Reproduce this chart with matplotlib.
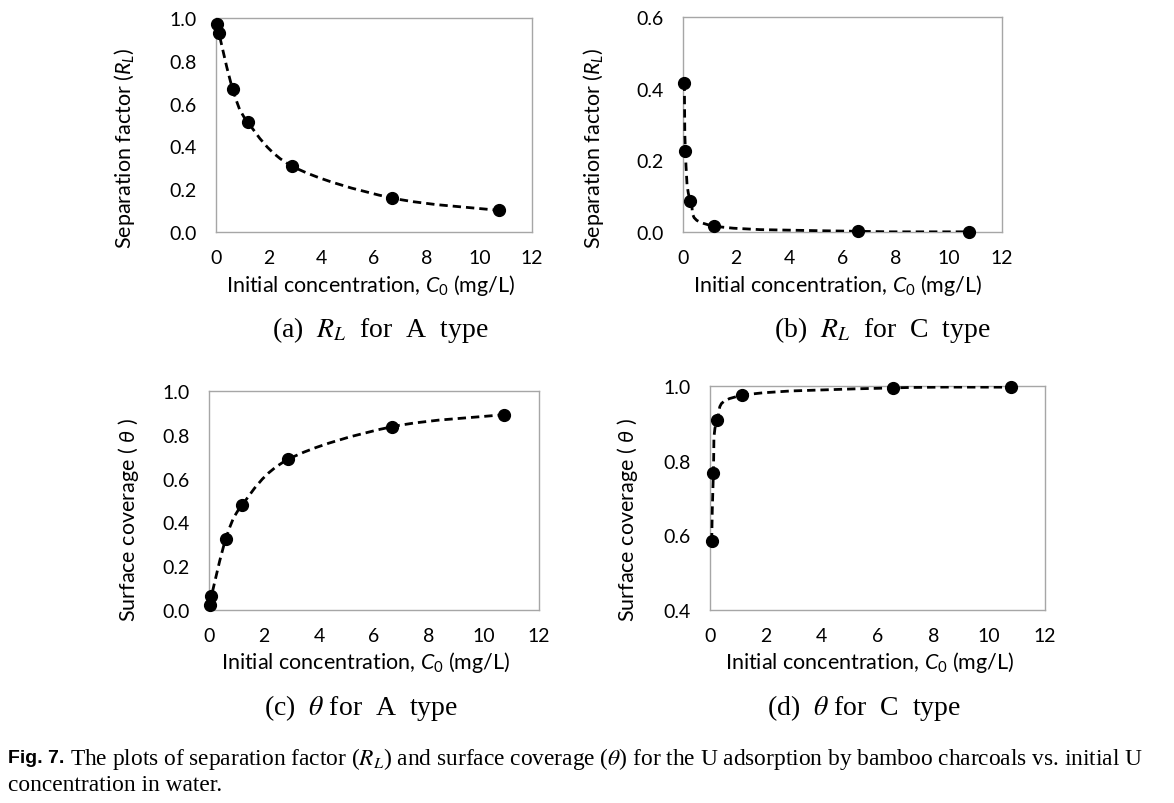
import matplotlib
matplotlib.use('Agg')
import matplotlib.pyplot as plt
from matplotlib.path import Path
from matplotlib.patches import PathPatch

# Data
c0_a = [0.05, 0.11, 0.63, 1.20, 2.90, 6.68, 10.76]
rl_a = [0.973, 0.930, 0.670, 0.514, 0.307, 0.159, 0.101]

c0_b = [0.05, 0.09, 0.28, 1.15, 6.57, 10.75]
rl_b = [0.417, 0.226, 0.087, 0.017, 0.002, 0.0005]

c0_c = [0.03, 0.09, 0.61, 1.20, 2.88, 6.66, 10.74]
theta_c = [0.024, 0.064, 0.323, 0.479, 0.688, 0.837, 0.892]

c0_d = [0.06, 0.12, 0.25, 1.16, 6.55, 10.80]
theta_d = [0.584, 0.767, 0.908, 0.975, 0.995, 0.997]

plt.rcParams['font.family'] = ['Lato', 'DejaVu Sans']
plt.rcParams['mathtext.fontset'] = 'custom'
plt.rcParams['mathtext.rm'] = 'Lato'
plt.rcParams['mathtext.it'] = 'Lato:italic'
plt.rcParams['mathtext.bf'] = 'Lato:bold'

FRAME = '#a6a6a6'


def smooth_path(xs, ys):
    """Excel-style smoothed line as a Bezier path through the points."""
    pts = list(zip(xs, ys))
    verts = [pts[0]]
    codes = [Path.MOVETO]
    n = len(pts)
    for i in range(n - 1):
        p0 = pts[i - 1] if i > 0 else pts[i]
        p1 = pts[i]
        p2 = pts[i + 1]
        p3 = pts[i + 2] if i + 2 < n else pts[i + 1]
        c1 = (p1[0] + (p2[0] - p0[0]) / 6, p1[1] + (p2[1] - p0[1]) / 6)
        c2 = (p2[0] - (p3[0] - p1[0]) / 6, p2[1] - (p3[1] - p1[1]) / 6)
        verts += [c1, c2, p2]
        codes += [Path.CURVE4] * 3
    return Path(verts, codes)


def draw_panel(ax, xs, ys, ylim, yticks, ylabel, ylab_xy, xlab_xy):
    ax.set_xlim(0, 12)
    ax.set_ylim(*ylim)
    ax.set_xticks(range(0, 13, 2))
    ax.set_yticks(yticks)
    ax.set_yticklabels([f'{v:.1f}' for v in yticks])
    ax.tick_params(length=0, labelsize=14, pad=12)
    ax.tick_params(axis='y', pad=14)
    for sp in ax.spines.values():
        sp.set_color(FRAME)
        sp.set_linewidth(1.0)
    ax.add_patch(PathPatch(smooth_path(xs, ys), fill=False, color='black',
                           lw=2.0, linestyle=(0, (3, 1.8)), zorder=3))
    ax.plot(xs, ys, 'o', color='black', markersize=8.5, zorder=4, clip_on=False)
    ax.set_ylabel(ylabel, fontsize=15.5, va='center')
    ax.yaxis.set_label_coords(*ylab_xy)
    ax.set_xlabel('Initial concentration, $C_0$ (mg/L)', fontsize=15.5, va='center')
    ax.xaxis.set_label_coords(*xlab_xy)


fig = plt.figure(figsize=(11.74, 8.04), dpi=100)

ax_a = fig.add_axes([0.184, 0.7102, 0.2692, 0.2662])
ax_b = fig.add_axes([0.5818, 0.7102, 0.2717, 0.2674])
ax_c = fig.add_axes([0.178, 0.2400, 0.2811, 0.2724])
ax_d = fig.add_axes([0.6048, 0.2400, 0.2853, 0.2786])

draw_panel(ax_a, c0_a, rl_a, (0, 1.0), [0, 0.2, 0.4, 0.6, 0.8, 1.0],
           'Separation factor ($R_L$)', (-0.288, 0.397), (0.49, -0.243))
draw_panel(ax_b, c0_b, rl_b, (0, 0.6), [0, 0.2, 0.4, 0.6],
           'Separation factor ($R_L$)', (-0.282, 0.395), (0.486, -0.242))
draw_panel(ax_c, c0_c, theta_c, (0, 1.0), [0, 0.2, 0.4, 0.6, 0.8, 1.0],
           r'Surface coverage ( $\theta$ )', (-0.245, 0.416), (0.476, -0.233))
draw_panel(ax_d, c0_d, theta_d, (0.4, 1.0), [0.4, 0.6, 0.8, 1.0],
           r'Surface coverage ( $\theta$ )', (-0.246, 0.406), (0.478, -0.228))

# sub captions
cap_kw = dict(fontsize=20, family='Liberation Serif', ha='center', va='center',
              math_fontfamily='stix')
fig.text(380 / 1174, 1 - 330 / 804, r'(a)  $R_L$  for  A  type', **cap_kw)
fig.text(882 / 1174, 1 - 330 / 804, r'(b)  $R_L$  for  C  type', **cap_kw)
fig.text(361 / 1174, 1 - 708 / 804, r'(c)  $\theta$ for  A  type', **cap_kw)
fig.text(864 / 1174, 1 - 708 / 804, r'(d)  $\theta$ for  C  type', **cap_kw)

# figure caption
fig.text(8 / 1174, 1 - 759 / 804, 'Fig. 7.', fontsize=14, fontweight='bold',
         family='Liberation Sans', ha='left', va='center')
body_kw = dict(fontsize=16.8, family='Liberation Serif', ha='left', va='center',
               math_fontfamily='stix')
fig.text(70 / 1174, 1 - 759 / 804,
         r'The plots of separation factor ($R_L$) and surface coverage ($\theta$) '
         r'for the U adsorption by bamboo charcoals vs. initial U', **body_kw)
fig.text(8 / 1174, 1 - 786 / 804, 'concentration in water.', **body_kw)

fig.savefig('out.png', dpi=100)
